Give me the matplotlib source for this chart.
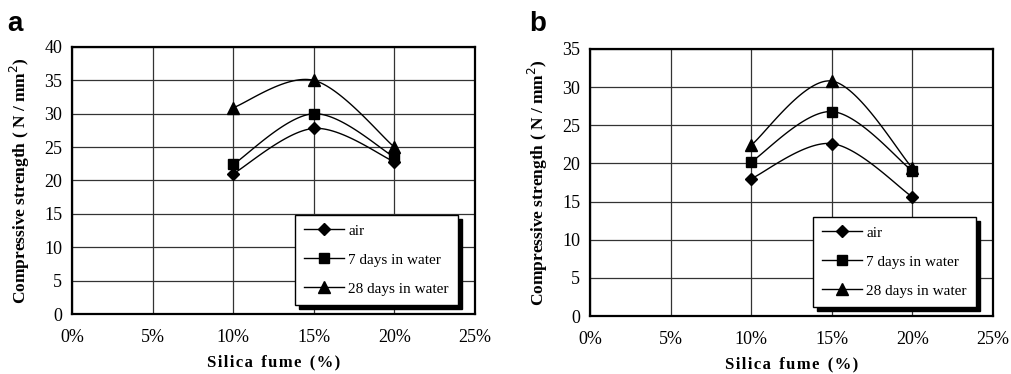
import matplotlib
matplotlib.use('Agg')
import matplotlib.pyplot as plt
from matplotlib.ticker import PercentFormatter, MultipleLocator
import numpy as np

plt.rcParams['font.family'] = 'Liberation Serif'

# Data
silica = [0.10, 0.15, 0.20]
series_names = ["air", "7 days in water", "28 days in water"]
markers = ['D', 's', '^']
msizes = [6.5, 7, 8]

a_air = [21.0, 27.8, 22.8]
a_7d = [22.4, 30.0, 23.5]
a_28d = [30.9, 35.0, 25.0]

b_air = [18.0, 22.6, 15.6]
b_7d = [20.2, 26.8, 19.0]
b_28d = [22.4, 30.8, 19.4]


def smooth(x, y, n=40):
    # Excel-like smoothed line (Catmull-Rom through the points)
    p = np.column_stack([x, y])
    p = np.vstack([p[0], p, p[-1]])
    out = []
    for i in range(1, len(p) - 2):
        p0, p1, p2, p3 = p[i - 1], p[i], p[i + 1], p[i + 2]
        t = np.linspace(0, 1, n)[:, None]
        seg = 0.5 * ((2 * p1) + (-p0 + p2) * t + (2 * p0 - 5 * p1 + 4 * p2 - p3) * t ** 2
                     + (-p0 + 3 * p1 - 3 * p2 + p3) * t ** 3)
        out.append(seg)
    s = np.vstack(out)
    return s[:, 0], s[:, 1]


fig = plt.figure(figsize=(10.11, 3.74), dpi=100)
fig.patch.set_facecolor('white')

panels = [
    ("a", [0.0712, 0.1604, 0.3986, 0.714], [a_air, a_7d, a_28d], 40, 0.007, 0.935),
    ("b", [0.5836, 0.155, 0.3986, 0.714], [b_air, b_7d, b_28d], 35, 0.523, 0.935),
]

xlabel = "S i l i c a  f u m e  ( % )".replace("  ", "\u2002").replace(" ", "\u200a")

for letter, rect, data, ymax, lx, ly in panels:
    ax = fig.add_axes(rect)
    for vals, name, m, ms in zip(data, series_names, markers, msizes):
        sx, sy = smooth(silica, vals)
        ax.plot(sx, sy, color='black', lw=1.0, zorder=3)
        ax.plot(silica, vals, linestyle='none', marker=m, ms=ms, color='black', zorder=4)
        ax.plot([], [], color='black', lw=1.0, marker=m, ms=ms, label=name)

    ax.set_xlim(0, 0.25)
    ax.set_ylim(0, ymax)
    ax.xaxis.set_major_locator(MultipleLocator(0.05))
    ax.yaxis.set_major_locator(MultipleLocator(5))
    ax.xaxis.set_major_formatter(PercentFormatter(xmax=1, decimals=0))
    ax.grid(True, color='#333333', lw=0.9)
    ax.set_axisbelow(True)
    for sp in ax.spines.values():
        sp.set_linewidth(1.6)
    ax.tick_params(length=0, labelsize=13)
    ax.tick_params(axis='x', pad=11)
    ax.tick_params(axis='y', pad=7)

    ax.set_ylabel("Compressive strength ( N / mm$^{2}$)", fontsize=12.5, fontweight='bold')
    ax.yaxis.set_label_coords(-0.099, 0.5)
    ax.set_xlabel(xlabel, fontsize=12, fontweight='bold')
    ax.xaxis.set_label_coords(0.5, -0.15)

    leg = ax.legend(loc='lower right', bbox_to_anchor=(0.958, 0.034), frameon=True,
                    fancybox=False, edgecolor='black', framealpha=1, fontsize=11,
                    handlelength=2.6, handletextpad=0.3, borderpad=0.6, labelspacing=1.0,
                    borderaxespad=0,
                    shadow={'ox': 3, 'oy': -3, 'color': 'black', 'alpha': 1})
    leg.get_frame().set_linewidth(1.0)
    leg.set_zorder(10)

    fig.text(lx, ly, letter, fontsize=20, fontweight='bold', family='Liberation Sans',
             ha='left', va='center')

fig.savefig("out.png", dpi=100)
